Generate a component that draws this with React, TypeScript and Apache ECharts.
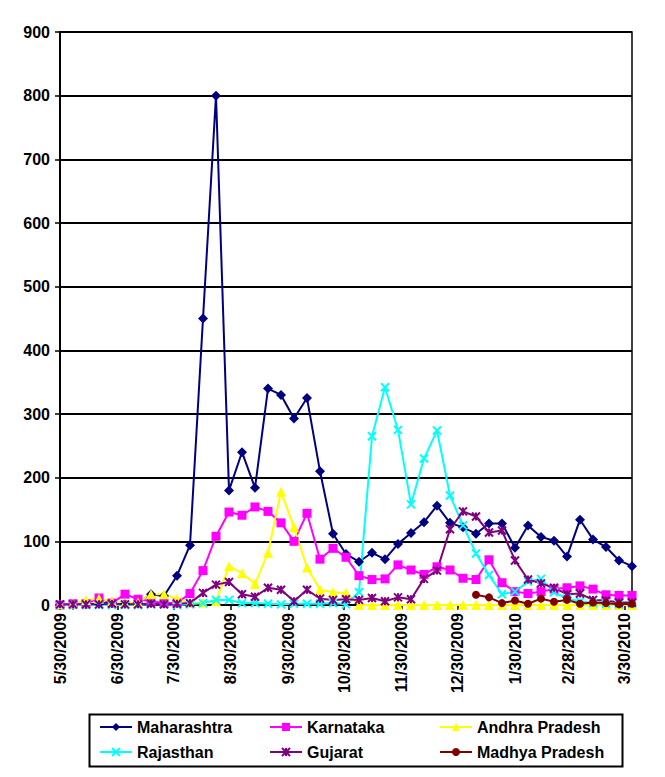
import { useEffect, useRef } from 'react';
import * as echarts from 'echarts';

// weekly report dates (m/d/yyyy)
const weeks = [
  '5/30/2009', '6/6/2009', '6/13/2009', '6/20/2009', '6/27/2009', '7/4/2009', '7/11/2009', '7/18/2009',
  '7/25/2009', '8/1/2009', '8/8/2009', '8/15/2009', '8/22/2009', '8/29/2009', '9/5/2009', '9/12/2009',
  '9/19/2009', '9/26/2009', '10/3/2009', '10/10/2009', '10/17/2009', '10/24/2009', '10/31/2009', '11/7/2009',
  '11/14/2009', '11/21/2009', '11/28/2009', '12/5/2009', '12/12/2009', '12/19/2009', '12/26/2009', '1/2/2010',
  '1/9/2010', '1/16/2010', '1/23/2010', '1/30/2010', '2/6/2010', '2/13/2010', '2/20/2010', '2/27/2010',
  '3/6/2010', '3/13/2010', '3/20/2010', '3/27/2010', '4/3/2010',
];

const tickDates = [
  '5/30/2009', '6/30/2009', '7/30/2009', '8/30/2009', '9/30/2009', '10/30/2009',
  '11/30/2009', '12/30/2009', '1/30/2010', '2/28/2010', '3/30/2010',
];

const maharashtra = [
  0, 0, 1, 2, 4, 2, 3, 17, 14, 46, 94, 450, 800, 180, 240, 184, 340, 330, 293, 325, 210, 112, 80,
  68, 82, 72, 96, 113, 130, 156, 129, 122, 112, 128, 128, 90, 125, 107, 101, 76, 134, 103, 91, 70, 61,
];
const karnataka = [
  0, 2, 2, 11, 3, 17, 9, 6, 3, 3, 18, 54, 108, 146, 141, 154, 147, 129, 100, 144, 72, 89, 75,
  46, 40, 41, 63, 55, 48, 60, 55, 42, 40, 71, 35, 21, 18, 21, 25, 27, 30, 25, 16, 15, 15,
];
const andhra = [
  1, 2, 8, 10, 6, 3, 4, 17, 17, 10, 3, 4, 6, 61, 50, 33, 82, 178, 122, 59, 24, 20, 19,
  0, 0, 0, 0, 0, 0, 0, 0, 0, 0, 0, 0, 0, 0, 0, 0, 0, 0, 0, 0, 0, 0,
];
const rajasthan = [
  0, 0, 0, 0, 0, 0, 0, 1, 1, 0, 1, 3, 8, 8, 3, 3, 2, 1, 2, 2, 2, 3, 1,
  20, 265, 342, 275, 158, 230, 274, 172, 125, 81, 47, 17, 21, 37, 41, 20, 10, 6, 3, 2, 1, 2,
];
const gujarat = [
  1, 1, 1, 1, 2, 1, 1, 2, 1, 2, 3, 19, 32, 36, 17, 13, 27, 24, 6, 24, 10, 8, 9,
  8, 11, 6, 12, 9, 41, 54, 119, 147, 139, 114, 117, 70, 40, 34, 27, 17, 18, 8, 7, 4, 4,
];
const madhya = [
  null, null, null, null, null, null, null, null, null, null, null, null, null, null, null, null,
  null, null, null, null, null, null, null, null, null, null, null, null, null, null, null, null,
  16, 12, 3, 7, 2, 10, 5, 8, 2, 4, 3, 1, 2,
];

const FONT = 'Liberation Sans, Arial, sans-serif';
const DAY = 86400000;

function toTime(s: string) {
  const [m, d, y] = s.split('/').map(Number);
  return Date.UTC(y, m - 1, d);
}

const T0 = toTime(weeks[0]);
// x axis is in days since the first report
const toDay = (s: string) => Math.round((toTime(s) - T0) / DAY);

function fmt(day: number) {
  const d = new Date(T0 + Math.round(day) * DAY);
  return `${d.getUTCMonth() + 1}/${d.getUTCDate()}/${d.getUTCFullYear()}`;
}

const X_SYMBOL = 'path://M0,0L10,10M10,0L0,10';
const STAR_SYMBOL = 'path://M0,0L10,10M10,0L0,10M5,0L5,10';

export default function App() {
  const chartRef = useRef<HTMLDivElement>(null);

  useEffect(() => {
    if (!chartRef.current) return;
    const chart = echarts.init(chartRef.current, null, { renderer: 'svg' });

    const days = weeks.map(toDay);
    const ticks = tickDates.map(toDay);
    const pair = (vals: (number | null)[]) => vals.map((v, i) => [days[i], v]);

    const mk = (name: string, vals: (number | null)[], color: string, symbol: string, size: number, stroke = false) => ({
      name,
      type: 'line',
      data: pair(vals),
      symbol,
      symbolSize: size,
      showSymbol: true,
      connectNulls: false,
      lineStyle: { color, width: 2 },
      itemStyle: stroke
        ? { color: 'none', borderColor: color, borderWidth: 2 }
        : { color, borderColor: color, borderWidth: 0 },
      emphasis: { disabled: true },
    });

    const legendBase = {
      orient: 'vertical',
      top: 714,
      itemGap: 9,
      itemWidth: 32,
      itemHeight: 10,
      selectedMode: false,
      textStyle: { fontFamily: FONT, fontSize: 16, fontWeight: 'bold', color: '#000' },
    };

    chart.setOption({
      animation: false,
      backgroundColor: '#fff',
      grid: {
        left: 60,
        top: 32,
        width: 572,
        height: 573,
        show: true,
        borderColor: '#000',
        borderWidth: 1.5,
        containLabel: false,
      },
      xAxis: {
        type: 'value',
        min: days[0],
        max: days[days.length - 1],
        axisLine: { onZero: false, lineStyle: { color: '#000', width: 2 } },
        axisTick: {
          show: true,
          length: 5,
          lineStyle: { color: '#000', width: 1.5 },
          customValues: ticks,
        },
        axisLabel: {
          customValues: ticks,
          formatter: (v: number) => fmt(v),
          rotate: 90,
          margin: 8,
          color: '#000',
          fontFamily: FONT,
          fontSize: 16,
          fontWeight: 'bold',
        },
        splitLine: { show: false },
      },
      yAxis: {
        type: 'value',
        min: 0,
        max: 900,
        interval: 100,
        axisLine: { show: true, lineStyle: { color: '#000', width: 2 } },
        axisTick: { show: true, length: 5, lineStyle: { color: '#000', width: 1.5 } },
        axisLabel: { color: '#000', fontFamily: FONT, fontSize: 16, fontWeight: 'bold', margin: 10 },
        splitLine: { show: true, lineStyle: { color: '#000', width: 2 } },
      },
      legend: [
        { ...legendBase, left: 94, data: ['Maharashtra', 'Rajasthan'] },
        { ...legendBase, left: 264, data: ['Karnataka', 'Gujarat'] },
        { ...legendBase, left: 434, data: ['Andhra Pradesh', 'Madhya Pradesh'] },
      ],
      graphic: [
        {
          type: 'rect',
          left: 87,
          top: 712,
          shape: { width: 533, height: 52 },
          style: { fill: 'none', stroke: '#000', lineWidth: 2 },
          silent: true,
        },
      ],
      series: [
        mk('Maharashtra', maharashtra, '#000080', 'diamond', 10),
        mk('Karnataka', karnataka, '#FF00FF', 'rect', 9),
        mk('Andhra Pradesh', andhra, '#FFFF00', 'triangle', 10),
        mk('Rajasthan', rajasthan, '#00FFFF', X_SYMBOL, 8, true),
        mk('Gujarat', gujarat, '#800080', STAR_SYMBOL, 8, true),
        mk('Madhya Pradesh', madhya, '#800000', 'circle', 8),
      ],
    });

    return () => {
      chart.dispose();
    };
  }, []);

  return (
    <div
      ref={chartRef}
      style={{ position: 'absolute', left: 0, top: 0, width: 665, height: 777 }}
    />
  );
}
